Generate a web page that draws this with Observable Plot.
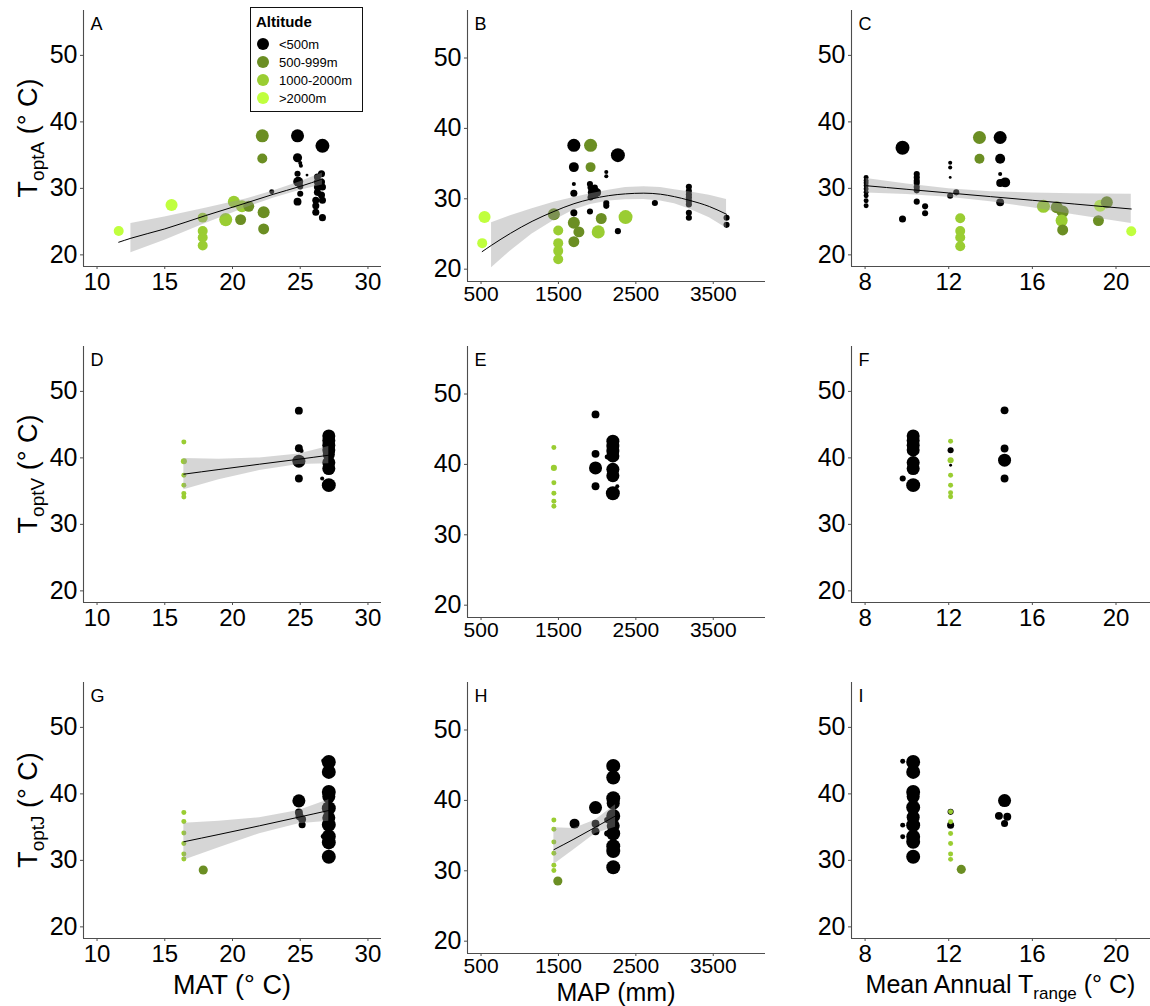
<!DOCTYPE html>
<html><head><meta charset="utf-8">
<script src="https://cdn.jsdelivr.net/npm/d3@7"></script>
<script src="https://cdn.jsdelivr.net/npm/@observablehq/plot@0.6"></script>
<style>
body{margin:0;background:#fff;font-family:"Liberation Sans",Arial,sans-serif;}
#fig{position:relative;width:1150px;height:1006px;overflow:hidden;background:#fff;}
#fig svg{position:absolute;max-width:none;}
.xt{position:absolute;text-align:center;font-size:27px;line-height:24px;white-space:nowrap;color:#000;}
.yt{position:absolute;font-size:27px;line-height:30px;white-space:nowrap;color:#000;transform:translate(-50%,-50%) rotate(-90deg);}
.sub{font-size:19px;position:relative;top:7px;}
#legend{position:absolute;left:250px;top:7px;width:113px;height:105px;border:1.5px solid #111;box-sizing:border-box;background:#fff;z-index:5;}
#legend .t{position:absolute;font-weight:bold;font-size:15px;line-height:15px;}
#legend .l{position:absolute;font-size:13px;line-height:13px;white-space:nowrap;}
#legend .c{position:absolute;width:12px;height:12px;border-radius:50%;}
</style></head>
<body><div id="fig"></div>
<script>
// ---------- categories & ticks ----------
const altitudeClasses = ["<500m", "500-999m", "1000-2000m", ">2000m"];
const altitudeColors = ["#000000", "#6b8e23", "#9acd32", "#c0ff3e"];
const yTicks = [20, 30, 40, 50];
const yLimits = [20, 55];
const matTicks = [10, 15, 20, 25, 30];
const mapTicks = [500, 1500, 2500, 3500];
const trangeTicks = [8, 12, 16, 20];
const matLimits = [10, 30];
const mapLimits = [500, 4000];
const trangeLimits = [8, 21];

// ---------- points: [x, Topt, altitude class index, n] ----------
const panelA = [
 [11.6,23.6,3,24],[15.5,27.5,3,35],
 [17.8,25.6,2,24],[17.8,23.6,2,24],[17.8,22.6,2,24],[17.8,21.4,2,24],
 [19.5,25.3,2,41],[20.1,28.0,2,35],[20.7,27.3,2,35],
 [20.6,25.3,1,29],[21.2,27.3,1,29],[22.2,37.9,1,41],[22.2,34.5,1,24],[22.3,26.4,1,35],[22.3,23.9,1,29],
 [22.9,29.5,0,6],[24.8,37.9,0,41],[24.8,34.6,0,20],[25.0,33.8,0,4],[25.05,33.4,0,4],[24.8,32.2,0,9],[25.5,32.0,0,2],
 [24.85,31.0,0,24],[25.0,30.3,0,9],[25.0,29.2,0,9],[24.8,28.0,0,15],[26.64,36.4,0,47],
 [26.27,31.7,0,12],[26.57,32.2,0,12],[26.27,30.95,0,12],[26.57,30.95,0,12],[26.27,30.2,0,12],[26.64,30.2,0,12],
 [26.27,29.4,0,12],[26.57,29.0,0,12],[26.15,28.2,0,12],[26.64,28.2,0,12],[26.15,27.4,0,12],[26.15,26.4,0,12],[26.64,25.6,0,12]
];
const panelB = [
 [545,27.4,3,35],[515,23.7,3,24],
 [1497,25.5,2,24],[1497,23.7,2,24],[1497,22.6,2,24],[1497,21.4,2,24],
 [1441,27.8,1,35],[1699,26.6,1,35],[1764,25.3,1,29],[1699,23.9,1,29],[1915,37.6,1,41],[1915,34.5,1,24],[2053,27.2,1,29],
 [2014,25.3,2,41],[2367,27.4,2,47],
 [1699,37.6,0,41],[1699,34.5,0,24],[1699,32.1,0,4],[1699,30.8,0,12],[1699,28.0,0,12],
 [1907,28.2,0,9],[1907,32.1,0,9],[1915,31.6,0,9],[1957,30.9,0,35],[1970,31.6,0,9],[1915,30.2,0,9],[2000,30.9,0,15],
 [2118,33.8,0,4],[2118,33.2,0,4],[2118,29.4,0,9],[2118,29.0,0,9],[2268,36.2,0,47],[2268,25.4,0,9],[2746,29.4,0,9],
 [3185,31.7,0,9],[3185,31.1,0,9],[3185,30.6,0,9],[3185,30.2,0,9],[3185,29.7,0,9],[3185,29.2,0,9],[3185,28.0,0,9],[3185,27.3,0,9],
 [3672,27.3,0,9],[3672,26.3,0,9]
];
const panelC = [
 [8.05,31.65,0,6],[8.05,31.15,0,6],[8.05,30.8,0,6],[8.05,30.4,0,6],[8.05,29.9,0,6],[8.05,29.4,0,6],[8.05,28.9,0,6],[8.05,28.15,0,6],[8.05,27.4,0,6],
 [9.79,36.1,0,47],[9.79,25.4,0,12],
 [10.47,32.15,0,9],[10.47,31.65,0,9],[10.47,31.15,0,9],[10.47,30.8,0,9],[10.47,30.2,0,9],[10.47,29.7,0,9],[10.47,28.0,0,9],
 [10.87,27.3,0,9],[10.87,26.25,0,9],
 [12.07,33.85,0,4],[12.07,33.15,0,4],[12.07,31.65,0,2],[12.07,28.9,0,9],[12.36,29.4,0,9],
 [12.55,25.5,2,24],[12.55,23.6,2,24],[12.55,22.6,2,24],[12.55,21.3,2,24],
 [13.47,37.65,1,41],[13.47,34.45,1,24],
 [14.46,37.65,0,41],[14.46,34.45,0,24],[14.46,32.15,0,4],[14.46,30.8,0,15],[14.7,30.9,0,24],[14.46,27.9,0,15],
 [16.53,27.3,2,41],[17.17,27.15,1,35],[17.45,26.5,1,35],[17.4,25.15,2,35],[17.45,23.75,1,29],
 [19.16,25.15,1,29],[19.24,27.4,3,35],[19.56,27.9,1,35],[20.73,23.55,3,24]
];
const panelD = [
 [16.41,42.4,2,6],[16.41,39.5,2,9],[16.41,37.4,2,6],[16.41,35.9,2,6],[16.41,34.65,2,6],[16.41,34.1,2,6],
 [24.9,47.1,0,15],[24.9,41.45,0,15],[25.1,41.05,0,4],[24.9,39.5,0,41],[24.9,36.9,0,15],
 [27.11,43.3,0,41],[27.11,42.6,0,41],[27.11,41.9,0,41],[27.11,41.2,0,41],[27.11,40.5,0,35],[27.11,39.3,0,41],
 [27.11,38.4,0,41],[27.11,35.9,0,47],[26.62,36.9,0,4]
];
const panelE = [
 [1441,42.4,2,6],[1441,39.5,2,9],[1441,37.4,2,6],[1441,35.9,2,6],[1441,34.75,2,6],[1441,34.05,2,6],
 [1979,47.1,0,15],[1979,41.5,0,15],[1979,39.5,0,41],[1979,36.9,0,15],
 [2203,43.3,0,41],[2203,42.6,0,41],[2203,41.9,0,41],[2203,41.2,0,41],[2203,39.3,0,41],[2203,38.4,0,41],[2203,35.9,0,47],
 [2130,41.05,0,6],[2260,36.9,0,4]
];
const panelF = [
 [9.8,36.9,0,9],
 [10.3,43.3,0,41],[10.3,42.6,0,41],[10.3,41.9,0,41],[10.3,41.2,0,41],[10.3,39.3,0,41],[10.3,38.4,0,41],[10.3,35.9,0,47],
 [12.09,41.15,0,9],[12.09,38.9,0,2],
 [12.09,42.5,2,6],[12.09,39.65,2,9],[12.09,37.4,2,6],[12.09,35.9,2,6],[12.09,34.75,2,6],[12.09,34.15,2,6],
 [14.67,47.15,0,15],[14.67,41.4,0,15],[14.67,39.65,0,41],[14.67,36.9,0,15]
];
const panelG = [
 [16.41,37.2,2,6],[16.41,35.85,2,6],[16.41,34.1,2,6],[16.41,32.55,2,6],[16.41,30.95,2,6],[16.41,30.2,2,6],
 [17.84,28.55,1,20],
 [24.9,38.95,0,41],[24.9,37.2,0,15],[24.95,36.65,0,15],[25.14,36.2,0,15],[25.14,35.35,0,12],
 [27.11,44.8,0,47],[27.11,43.3,0,47],[27.11,40.3,0,47],[27.11,39.6,0,41],[27.11,37.85,0,47],[27.11,36.4,0,41],
 [27.11,35.35,0,47],[27.11,33.6,0,47],[27.11,32.7,0,47],[27.11,30.55,0,47],
 [26.7,45.0,0,4],[26.7,33.6,0,6]
];
const panelH = [
 [1441,37.2,2,6],[1441,35.9,2,6],[1441,34.1,2,6],[1441,32.5,2,6],[1441,30.8,2,6],[1441,30.05,2,6],
 [1492,28.55,1,20],
 [1708,36.7,0,24],[1979,38.98,0,41],[1979,36.7,0,15],[1979,35.6,0,15],
 [2208,44.9,0,47],[2208,43.25,0,47],[2208,40.3,0,47],[2208,39.6,0,41],[2208,37.8,0,47],[2208,36.4,0,41],
 [2208,35.3,0,47],[2208,33.5,0,47],[2208,32.8,0,47],[2208,30.5,0,47],
 [2130,37.2,0,9],[2130,35.3,0,9]
];
const panelI = [
 [9.8,44.9,0,6],[9.8,35.3,0,6],[9.8,33.55,0,6],
 [10.3,44.8,0,47],[10.3,43.3,0,47],[10.3,40.3,0,47],[10.3,39.6,0,41],[10.3,37.95,0,47],[10.3,36.5,0,41],
 [10.3,35.3,0,47],[10.3,33.55,0,47],[10.3,32.8,0,47],[10.3,30.55,0,47],
 [12.09,37.3,0,9],[12.09,35.3,0,12],
 [12.09,37.3,2,6],[12.09,35.8,2,6],[12.09,34.05,2,6],[12.09,32.55,2,6],[12.09,30.95,2,6],[12.09,30.15,2,6],
 [12.6,28.65,1,20],
 [14.67,39.0,0,41],[14.4,36.7,0,15],[14.8,36.55,0,15],[14.67,35.55,0,12]
];

// ---------- fitted smooths (fit, 95% band) ----------
const A_fitX  = [11.6, 12.5, 15, 18, 21, 23, 25, 26.64];
const A_fitY  = [21.9, 22.5, 23.9, 25.9, 27.8, 29.1, 30.3, 31.4];
const A_fitLo = [null, 20.3, 22.2, 24.7, 27.1, 28.5, 29.7, 30.5];
const A_fitHi = [null, 24.7, 25.7, 27.0, 28.4, 29.6, 31.0, 32.3];

const B_fitX  = [515, 636, 881, 1160, 1441, 1700, 1915, 2150, 2367, 2603, 2819, 3000, 3185, 3450, 3672];
const B_fitY  = [22.5, 23.4, 25.1, 26.8, 28.2, 29.3, 29.95, 30.45, 30.7, 30.8, 30.65, 30.3, 29.8, 28.9, 27.8];
const B_fitLo = [null, 20.2, 22.6, 25.0, 26.9, 28.4, 29.2, 29.7, 29.85, 29.9, 29.7, 29.3, 28.6, 27.3, 25.8];
const B_fitHi = [null, 26.6, 27.6, 28.6, 29.5, 30.2, 30.7, 31.2, 31.6, 31.7, 31.6, 31.3, 31.0, 30.5, 29.9];

const C_fitX  = [8.05, 10, 12, 14, 16, 18, 20.73];
const C_fitY  = [30.4, 29.86, 29.31, 28.76, 28.21, 27.65, 26.9];
const C_fitLo = [29.3, 29.06, 28.66, 28.0, 27.1, 26.05, 24.7];
const C_fitHi = [31.5, 30.66, 29.96, 29.5, 29.3, 29.2, 29.1];

const D_fitX  = [16.41, 19, 22, 24.9, 27.11];
const D_fitY  = [37.55, 38.25, 39.05, 39.8, 40.4];
const D_fitLo = [35.2, 36.7, 38.1, 39.0, 39.1];
const D_fitHi = [39.9, 39.8, 40.0, 40.6, 41.7];

const G_fitX  = [16.41, 19, 22, 24.9, 27.11];
const G_fitY  = [32.8, 33.9, 35.2, 36.5, 37.5];
const G_fitLo = [30.0, 31.9, 34.0, 35.5, 35.9];
const G_fitHi = [35.6, 35.9, 36.4, 37.5, 39.1];

const H_fitX  = [1441, 1700, 1979, 2238];
const H_fitY  = [33.0, 34.5, 36.2, 37.8];
const H_fitLo = [30.9, 33.0, 35.3, 36.2];
const H_fitHi = [36.1, 36.0, 37.2, 39.4];

// ---------- layout ----------
const expand = (l) => [l[0] - 0.05 * (l[1] - l[0]), l[1] + 0.05 * (l[1] - l[0])];
const yDomain = expand(yLimits);
const xDomains = [expand(matLimits), expand(mapLimits), expand(trangeLimits)];
const xTickSets = [matTicks, mapTicks, trangeTicks];
const colLeft = [83, 467, 851];
const colWidth = [298, 298, 299];
const colHeight = [256, 271, 256];
const rowTop = [10, 346, 682];
const axisColor = "#4d4d4d";
const fontFam = "'Liberation Sans', Arial, sans-serif";

const fig = document.getElementById("fig");
const fitRows = (xs, ys, lo, hi) => xs.map((x, i) => ({x, fit: ys[i], lo: lo[i], hi: hi[i]}));

const panels = [
  {letter: "A", pts: panelA, row: 0, col: 0, fit: fitRows(A_fitX, A_fitY, A_fitLo, A_fitHi)},
  {letter: "B", pts: panelB, row: 0, col: 1, fit: fitRows(B_fitX, B_fitY, B_fitLo, B_fitHi)},
  {letter: "C", pts: panelC, row: 0, col: 2, fit: fitRows(C_fitX, C_fitY, C_fitLo, C_fitHi)},
  {letter: "D", pts: panelD, row: 1, col: 0, fit: fitRows(D_fitX, D_fitY, D_fitLo, D_fitHi)},
  {letter: "E", pts: panelE, row: 1, col: 1, fit: null},
  {letter: "F", pts: panelF, row: 1, col: 2, fit: null},
  {letter: "G", pts: panelG, row: 2, col: 0, fit: fitRows(G_fitX, G_fitY, G_fitLo, G_fitHi)},
  {letter: "H", pts: panelH, row: 2, col: 1, fit: fitRows(H_fitX, H_fitY, H_fitLo, H_fitHi)},
  {letter: "I", pts: panelI, row: 2, col: 2, fit: null}
];

for (const p of panels) {
  const w = colWidth[p.col], h = colHeight[p.col];
  const mL = 70, mR = p.col === 2 ? 0 : 10, mT = 2, mB = 40;
  const rows = p.pts.map(([x, y, a, n]) => ({x, y, alt: altitudeClasses[a], n}));
  const mid = p.col === 1;
  const marks = [
    Plot.ruleX([xDomains[p.col][0]], {stroke: axisColor, strokeWidth: 1.1}),
    Plot.ruleY([yDomain[0]], {stroke: axisColor, strokeWidth: 1.1}),
    Plot.axisY(yTicks, {tickSize: 3, tickPadding: 3, fontSize: 25, label: null, stroke: axisColor, fill: "black", tickFormat: d => String(d)}),
    Plot.axisX(xTickSets[p.col], {tickSize: 3, tickPadding: mid ? 2 : 3, fontSize: mid ? 21 : 24, label: null, stroke: axisColor, fill: "black", tickFormat: d => String(d)}),
    Plot.dot(rows, {x: "x", y: "y", r: "n", fill: "alt", stroke: null, sort: null})
  ];
  if (p.fit) {
    marks.push(Plot.areaY(p.fit, {x: "x", y1: "lo", y2: "hi", fill: "#999999", fillOpacity: 0.4}));
    marks.push(Plot.line(p.fit, {x: "x", y: "fit", stroke: "black", strokeWidth: 1, curve: "monotone-x"}));
  }
  marks.push(Plot.text([p.letter], {text: d => d, frameAnchor: "top-left", textAnchor: "start", lineAnchor: "top", dx: 7, dy: 7, fontSize: 18, fill: "black"}));
  const svg = Plot.plot({
    width: mL + w + mR, height: mT + h + mB,
    marginLeft: mL, marginRight: mR, marginTop: mT, marginBottom: mB,
    x: {domain: xDomains[p.col]},
    y: {domain: yDomain},
    r: {type: "sqrt", domain: [0, 50], range: [0, 7.2]},
    color: {domain: altitudeClasses, range: altitudeColors},
    style: {fontFamily: fontFam, background: "transparent", overflow: "visible"},
    marks
  });
  svg.style.left = (colLeft[p.col] - mL) + "px";
  svg.style.top = (rowTop[p.row] - mT) + "px";
  fig.appendChild(svg);
}

// ---------- axis titles ----------
function addX(html, cx, top, fs, lh) {
  const d = document.createElement("div");
  d.className = "xt"; d.innerHTML = html;
  d.style.fontSize = fs + "px"; d.style.lineHeight = lh + "px";
  d.style.left = (cx - 200) + "px"; d.style.width = "400px"; d.style.top = top + "px";
  fig.appendChild(d);
}
addX("MAT (° C)", colLeft[0] + colWidth[0] / 2, 970, 27, 30);
addX("MAP (mm)", colLeft[1] + colWidth[1] / 2, 977.5, 25, 28);
addX('Mean Annual T<span class="sub" style="font-size:17px;top:6px">range</span> (° C)', colLeft[2] + colWidth[2] / 2, 970, 25, 28);

const yTitles = ["optA", "optV", "optJ"];
yTitles.forEach((s, i) => {
  const d = document.createElement("div");
  d.className = "yt";
  d.innerHTML = 'T<span class="sub">' + s + '</span> (° C)';
  d.style.left = "29px";
  d.style.top = (rowTop[i] + colHeight[0] / 2) + "px";
  fig.appendChild(d);
});

// ---------- legend ----------
const lg = document.createElement("div");
lg.id = "legend";
let html = '<div class="t" style="left:5px;top:6px">Altitude</div>';
altitudeClasses.forEach((c, i) => {
  const cy = 36 + i * 18;
  html += '<div class="c" style="left:6px;top:' + (cy - 6) + 'px;background:' + altitudeColors[i] + '"></div>';
  html += '<div class="l" style="left:28px;top:' + (cy - 6.5) + 'px">' + c.replace("<", "&lt;").replace(">", "&gt;") + '</div>';
});
lg.innerHTML = html;
fig.appendChild(lg);
</script>
</body></html>
